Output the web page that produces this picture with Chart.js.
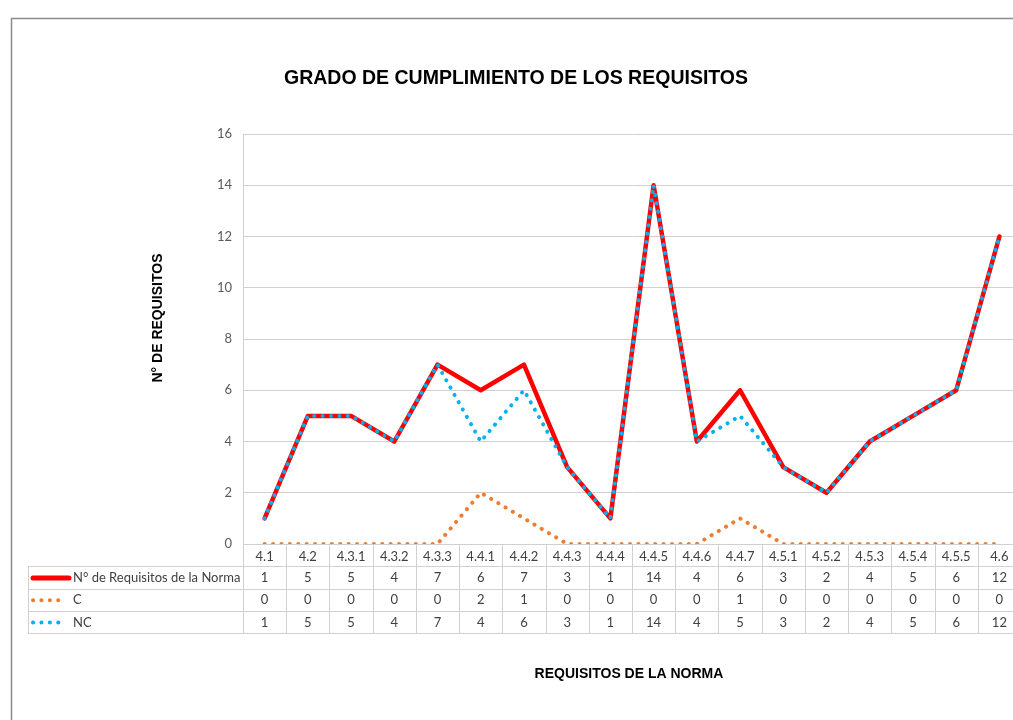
<!DOCTYPE html>
<html>
<head>
<meta charset="utf-8">
<script src="https://cdn.jsdelivr.net/npm/chart.js@4.4.0/dist/chart.umd.min.js"></script>
<style>
  html, body { margin: 0; padding: 0; background: #fff; overflow: hidden; width: 1013px; height: 720px; }
  #wrap { position: absolute; left: 0; top: 0; width: 1013px; height: 720px; overflow: hidden; }
  canvas { position: absolute; left: 0; top: 0; }
</style>
</head>
<body>
<div id="wrap"><canvas id="c" width="1040" height="720" style="width:1040px;height:720px"></canvas></div>
<script>
const categories = ['4.1','4.2','4.3.1','4.3.2','4.3.3','4.4.1','4.4.2','4.4.3','4.4.4','4.4.5','4.4.6','4.4.7','4.5.1','4.5.2','4.5.3','4.5.4','4.5.5','4.6'];
const normaValues = [1,5,5,4,7,6,7,3,1,14,4,6,3,2,4,5,6,12];
const cValues     = [0,0,0,0,0,2,1,0,0,0,0,1,0,0,0,0,0,0];
const ncValues    = [1,5,5,4,7,4,6,3,1,14,4,5,3,2,4,5,6,12];
const seriesNames = ['N° de Requisitos de la Norma', 'C', 'NC'];
const yMin = 0, yMax = 16, yStep = 2;
const chartTitle = 'GRADO DE CUMPLIMIENTO DE LOS REQUISITOS';
const yTitle = 'N° DE REQUISITOS';
const xTitle = 'REQUISITOS DE LA NORMA';

const FONT = 'Lato, "Open Sans", sans-serif';
const GRID = '#d0d0d0';
const TXT = '#404040';

const tablePlugin = {
  id: 'excelTable',
  beforeDraw(chart) {
    const ctx = chart.ctx;
    ctx.save();
    ctx.fillStyle = '#fff';
    ctx.fillRect(0, 0, chart.width, chart.height);
    ctx.strokeStyle = '#8c8c8c';
    ctx.lineWidth = 1.5;
    ctx.beginPath();
    ctx.moveTo(11.5, 730);
    ctx.lineTo(11.5, 18.5);
    ctx.lineTo(chart.width, 18.5);
    ctx.stroke();
    ctx.restore();
  },
  afterDraw(chart) {
    const ctx = chart.ctx;
    const xs = chart.scales.x;
    const area = chart.chartArea;
    const n = categories.length;
    const colW = (area.right - area.left) / n;
    const rowH = 22.3;
    const top = area.bottom;
    const legendLeft = 28;
    ctx.save();
    ctx.strokeStyle = GRID;
    ctx.lineWidth = 1;
    for (let r = 1; r <= 4; r++) {
      const y = Math.round(top + r * rowH) + 0.5;
      ctx.beginPath();
      ctx.moveTo(legendLeft, y);
      ctx.lineTo(area.right, y);
      ctx.stroke();
    }
    const bottom = Math.round(top + 4 * rowH) + 0.5;
    for (let i = 0; i <= n; i++) {
      const x = Math.round(area.left + i * colW) + 0.5;
      ctx.beginPath();
      ctx.moveTo(x, top);
      ctx.lineTo(x, bottom);
      ctx.stroke();
    }
    ctx.beginPath();
    ctx.moveTo(legendLeft + 0.5, Math.round(top + rowH) + 0.5);
    ctx.lineTo(legendLeft + 0.5, bottom);
    ctx.stroke();

    const rows = [normaValues, cValues, ncValues];
    ctx.fillStyle = TXT;
    ctx.font = '13px ' + FONT;
    ctx.textAlign = 'center';
    ctx.textBaseline = 'middle';
    rows.forEach((vals, r) => {
      const yc = top + (r + 1.5) * rowH + 0.5;
      vals.forEach((v, i) => {
        ctx.fillText(String(v), xs.getPixelForValue(i), yc);
      });
    });

    rows.forEach((vals, r) => {
      const ds = chart.data.datasets[r];
      const yc = top + (r + 1.5) * rowH + 0.5;
      ctx.save();
      ctx.strokeStyle = ds.borderColor;
      ctx.lineWidth = r === 0 ? 5 : ds.borderWidth;
      ctx.lineCap = r === 0 ? 'round' : (ds.borderCapStyle || 'butt');
      ctx.setLineDash(ds.borderDash || []);
      ctx.beginPath();
      ctx.moveTo(r === 0 ? 33 : 33, yc);
      ctx.lineTo(r === 0 ? 69 : 66, yc);
      ctx.stroke();
      ctx.restore();
      ctx.fillStyle = TXT;
      ctx.textAlign = 'left';
      ctx.fillText(seriesNames[r], 73, yc);
    });

    ctx.fillStyle = '#000';
    ctx.font = 'bold 19.5px "Liberation Sans", Arial, sans-serif';
    ctx.textAlign = 'center';
    ctx.textBaseline = 'middle';
    ctx.fillText(chartTitle, 516, 79);
    ctx.font = 'bold 14px "Liberation Sans", Arial, sans-serif';
    ctx.fillText(xTitle, 629, 674);
    ctx.save();
    ctx.translate(158, 318);
    ctx.rotate(-Math.PI / 2);
    ctx.fillText(yTitle, 0, 0);
    ctx.restore();
    ctx.restore();
  }
};

new Chart(document.getElementById('c'), {
  type: 'line',
  data: {
    labels: categories,
    datasets: [
      { label: seriesNames[0], data: normaValues, borderColor: '#ff0000', backgroundColor: '#ff0000',
        borderWidth: 4.5, pointRadius: 0, tension: 0, order: 3, borderJoinStyle: 'round', borderCapStyle: 'round' },
      { label: seriesNames[1], data: cValues, borderColor: '#ed7d31', backgroundColor: '#ed7d31',
        borderWidth: 4, borderDash: [0.1, 8.3], borderCapStyle: 'round', pointRadius: 0, tension: 0, order: 2 },
      { label: seriesNames[2], data: ncValues, borderColor: '#00b0f0', backgroundColor: '#00b0f0',
        borderWidth: 4, borderDash: [0.1, 8.3], borderCapStyle: 'round', pointRadius: 0, tension: 0, order: 1 }
    ]
  },
  options: {
    responsive: false,
    animation: false,
    devicePixelRatio: 1,
    layout: { padding: { top: 134, left: 0, right: 19, bottom: 0 } },
    plugins: { legend: { display: false }, title: { display: false }, tooltip: { enabled: false } },
    scales: {
      x: {
        offset: true,
        grid: { display: false, drawTicks: false },
        border: { display: false },
        ticks: { color: TXT, font: { family: FONT, size: 13 }, padding: 5, maxRotation: 0, autoSkip: false },
        afterFit(scale) { scale.height = 176; }
      },
      y: {
        min: yMin, max: yMax,
        ticks: { stepSize: yStep, color: '#595959', font: { family: FONT, size: 13 }, padding: 11 },
        grid: { color: GRID, lineWidth: 1, drawTicks: false },
        border: { display: true, color: GRID, width: 1 },
        afterFit(scale) { scale.width = 243; }
      }
    }
  },
  plugins: [tablePlugin]
});
</script>
</body>
</html>
